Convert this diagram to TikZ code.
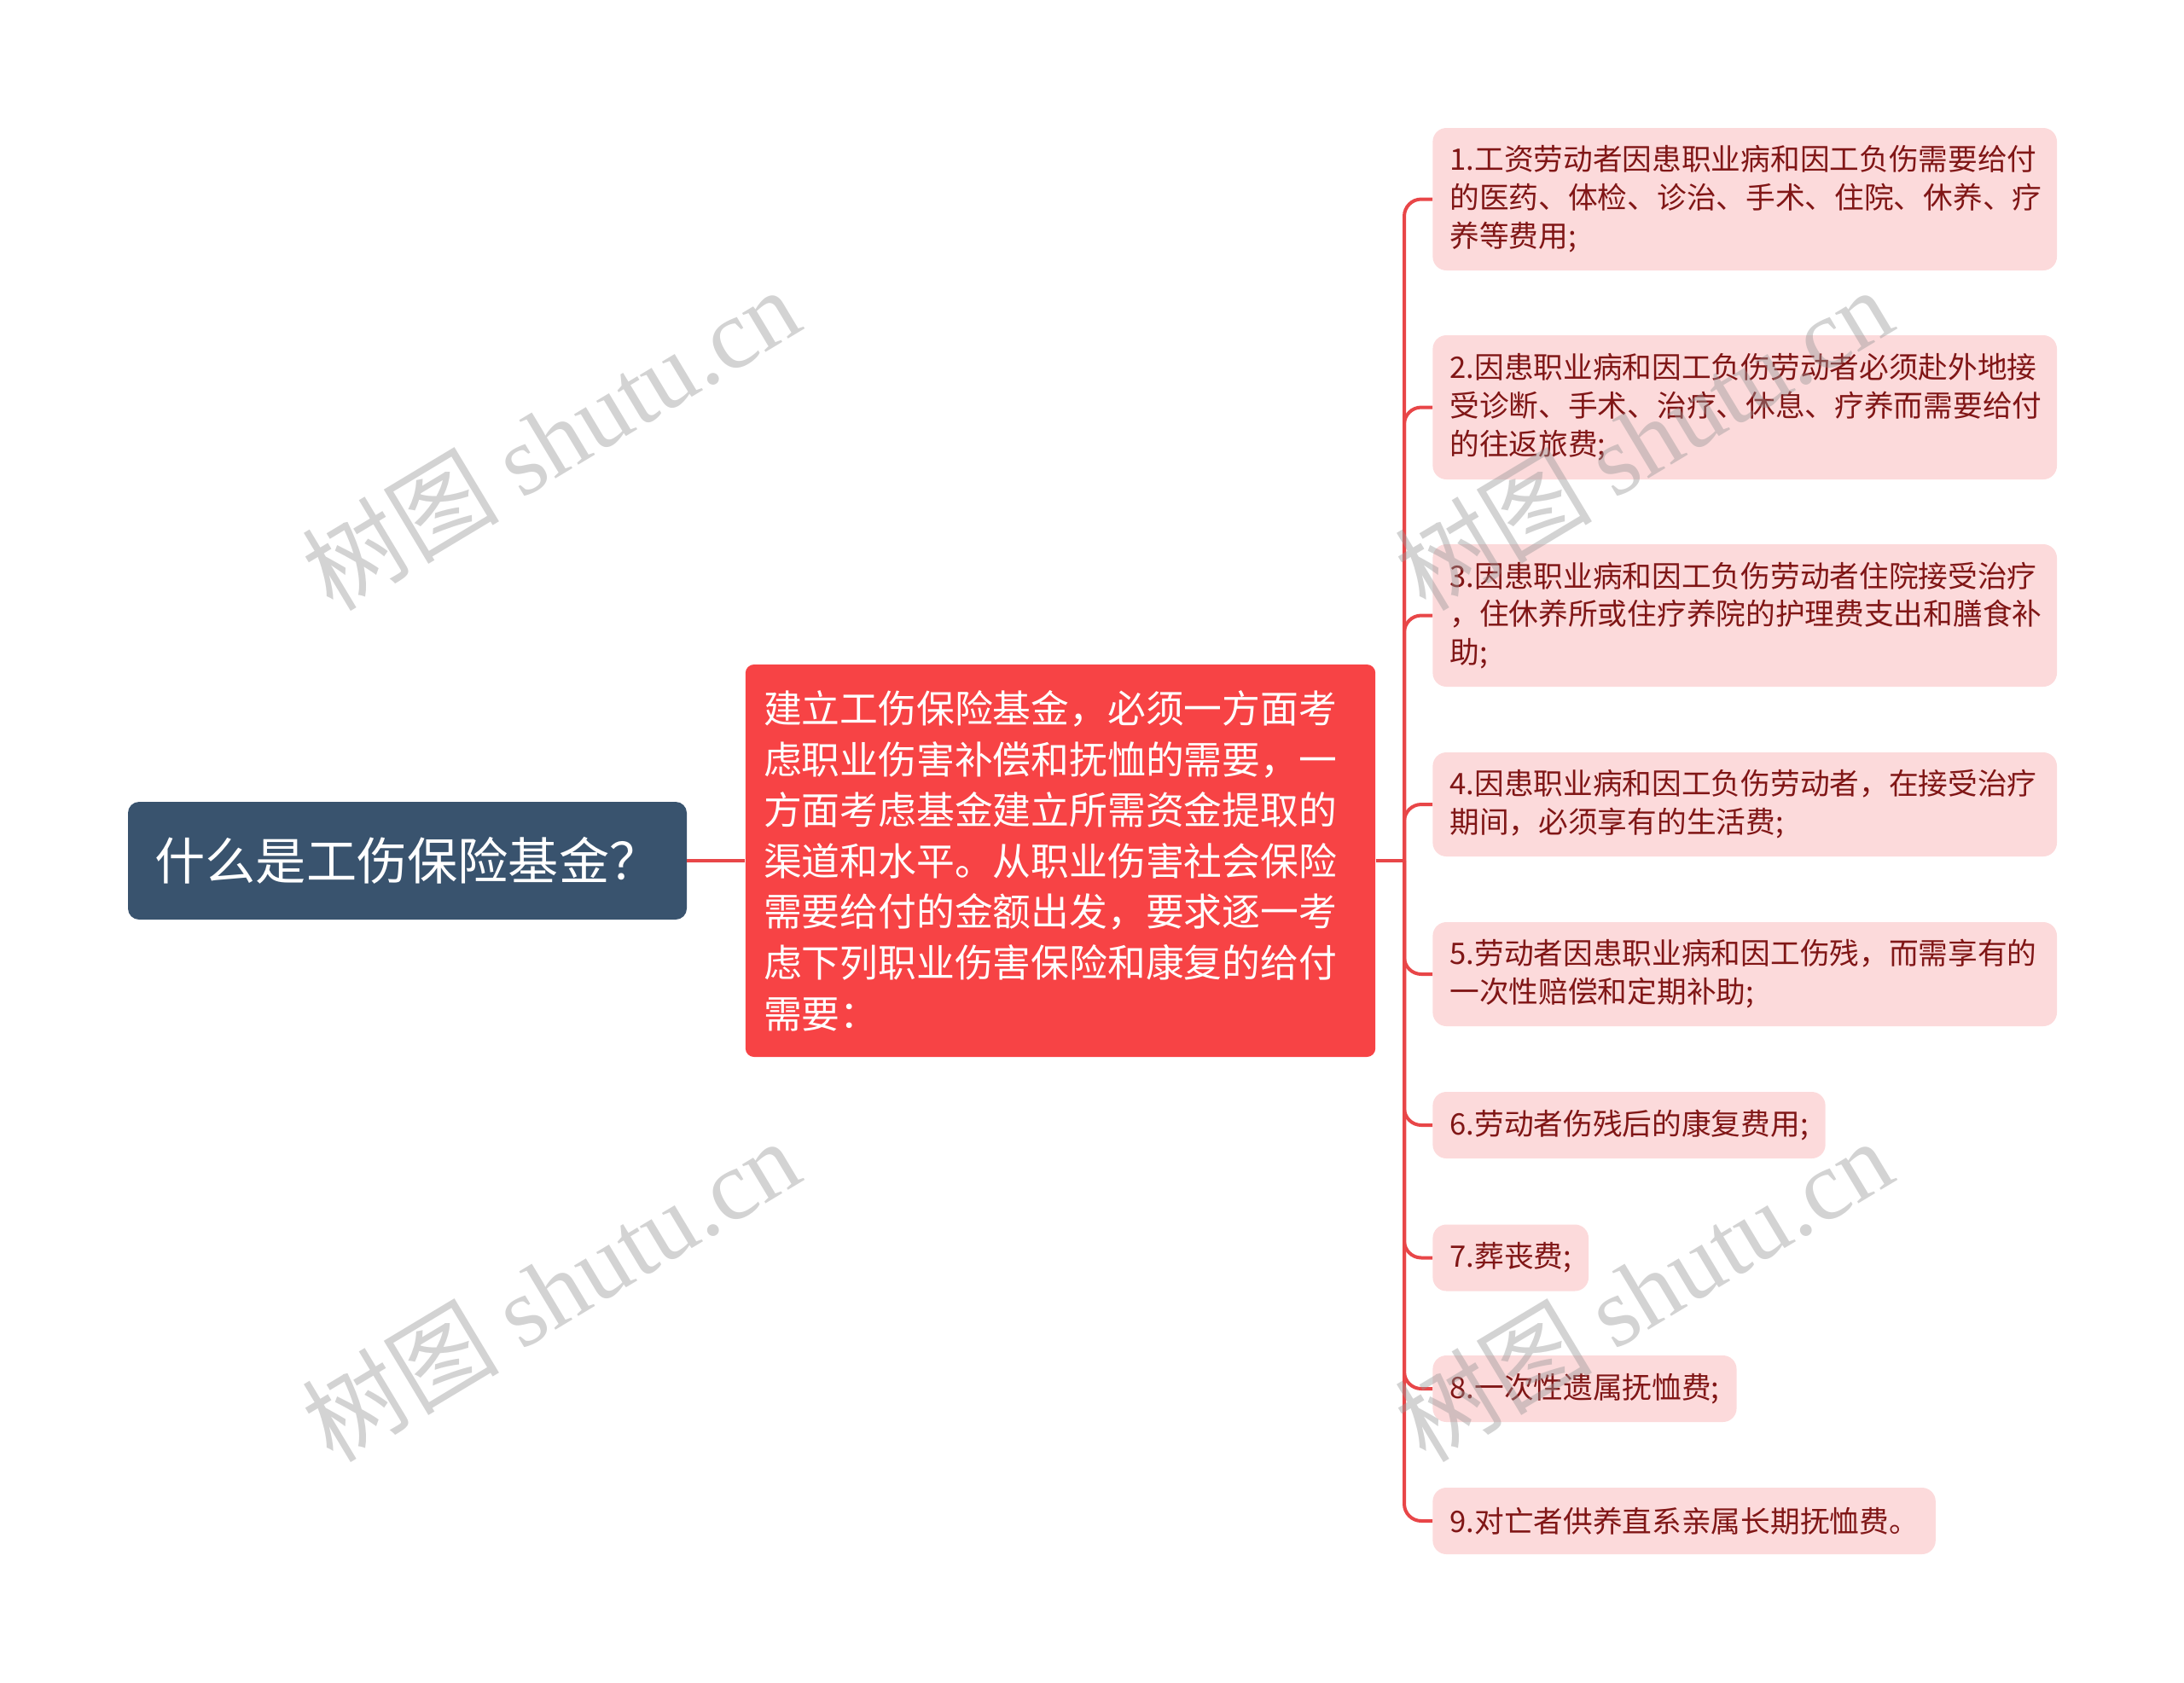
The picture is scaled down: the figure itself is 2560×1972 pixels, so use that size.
\documentclass[tikz,border=0pt]{standalone}
\usepackage{fontspec}
\setmainfont{Noto Sans CJK SC}
\newfontfamily\wmserif{Liberation Serif}
\newfontfamily\wmcjk{Noto Sans CJK SC}
\definecolor{rootfill}{RGB}{57,83,110}
\definecolor{midfill}{RGB}{247,67,69}
\definecolor{leaffill}{RGB}{252,218,219}
\definecolor{leaftext}{RGB}{128,22,22}
\definecolor{linecol}{RGB}{232,70,72}
\definecolor{wmgray}{RGB}{150,150,150}
\begin{document}
\begin{tikzpicture}[x=0.5pt,y=-0.5pt,
  rootbox/.style={fill=rootfill,rounded corners=6.5pt,text=white,inner xsep=15pt,
    minimum width=327.5pt,minimum height=69pt,font=\fontsize{29.6pt}{34pt}\selectfont},
  midbox/.style={fill=midfill,rounded corners=5pt,text=white,inner xsep=10.6pt,
    text width=348pt,align=left,minimum height=230pt,
    font=\fontsize{22.4pt}{29.8pt}\selectfont},
  leafbox/.style={fill=leaffill,rounded corners=8pt,text=leaftext,inner xsep=10pt,
    anchor=west,font=\fontsize{17.35pt}{22.45pt}\selectfont},
  wideleaf/.style={leafbox,text width=345.8pt,align=left},
  conn/.style={draw=linecol,line width=2pt},
  branch/.style={conn,rounded corners=10pt},
  wm/.style={text=wmgray,opacity=0.42,rotate=31,font=\fontsize{58pt}{66pt}\selectfont}
]
\useasboundingbox (0,0) rectangle (2560,1972);

\node[rootbox] (root) at (477.5,1009) {什么是工伤保险基金？};
\node[midbox] (mid) at (1243,1009) {建立工伤保险基金，必须一方面考\\虑职业伤害补偿和抚恤的需要，一\\方面考虑基金建立所需资金提取的\\渠道和水平。从职业伤害社会保险\\需要给付的金额出发，要求逐一考\\虑下列职业伤害保险和康复的给付\\需要：};

\node[wideleaf,minimum height=83.5pt] (k1) at (1679,233.5) {1.工资劳动者因患职业病和因工负伤需要给付\\的医药、体检、诊治、手术、住院、休养、疗\\养等费用;};
\node[wideleaf,minimum height=84.5pt] (k2) at (1679,477.5) {2.因患职业病和因工负伤劳动者必须赴外地接\\受诊断、手术、治疗、休息、疗养而需要给付\\的往返旅费;};
\node[wideleaf,minimum height=83.5pt] (k3) at (1679,721.5) {3.因患职业病和因工负伤劳动者住院接受治疗\\，住休养所或住疗养院的护理费支出和膳食补\\助;};
\node[wideleaf,minimum height=61pt] (k4) at (1679,943) {4.因患职业病和因工负伤劳动者，在接受治疗\\期间，必须享有的生活费;};
\node[wideleaf,minimum height=61pt] (k5) at (1679,1142) {5.劳动者因患职业病和因工伤残，而需享有的\\一次性赔偿和定期补助;};
\node[leafbox,minimum height=39pt] (k6) at (1679,1319) {6.劳动者伤残后的康复费用;};
\node[leafbox,minimum height=39pt] (k7) at (1679,1474.5) {7.葬丧费;};
\node[leafbox,minimum height=39pt] (k8) at (1679,1628) {8.一次性遗属抚恤费;};
\node[leafbox,minimum height=39pt] (k9) at (1679,1783) {9.对亡者供养直系亲属长期抚恤费。};

\coordinate (trunk) at (1646,1009);
\draw[conn] (root.east) -- (mid.west);
\draw[conn] (mid.east) -- (trunk);
\foreach \k in {k1,k2,k3,k4,k5,k6,k7,k8,k9}{
  \draw[branch] (trunk) |- (\k.west);
}

\node[wm] (wm1) at (645,514) {{\wmcjk 树图} {\wmserif shutu.cn}};
\node[wm] (wm2) at (645,1512) {{\wmcjk 树图} {\wmserif shutu.cn}};
\node[wm] (wm3) at (1926,514) {{\wmcjk 树图} {\wmserif shutu.cn}};
\node[wm] (wm4) at (1926,1512) {{\wmcjk 树图} {\wmserif shutu.cn}};
\end{tikzpicture}
\end{document}
